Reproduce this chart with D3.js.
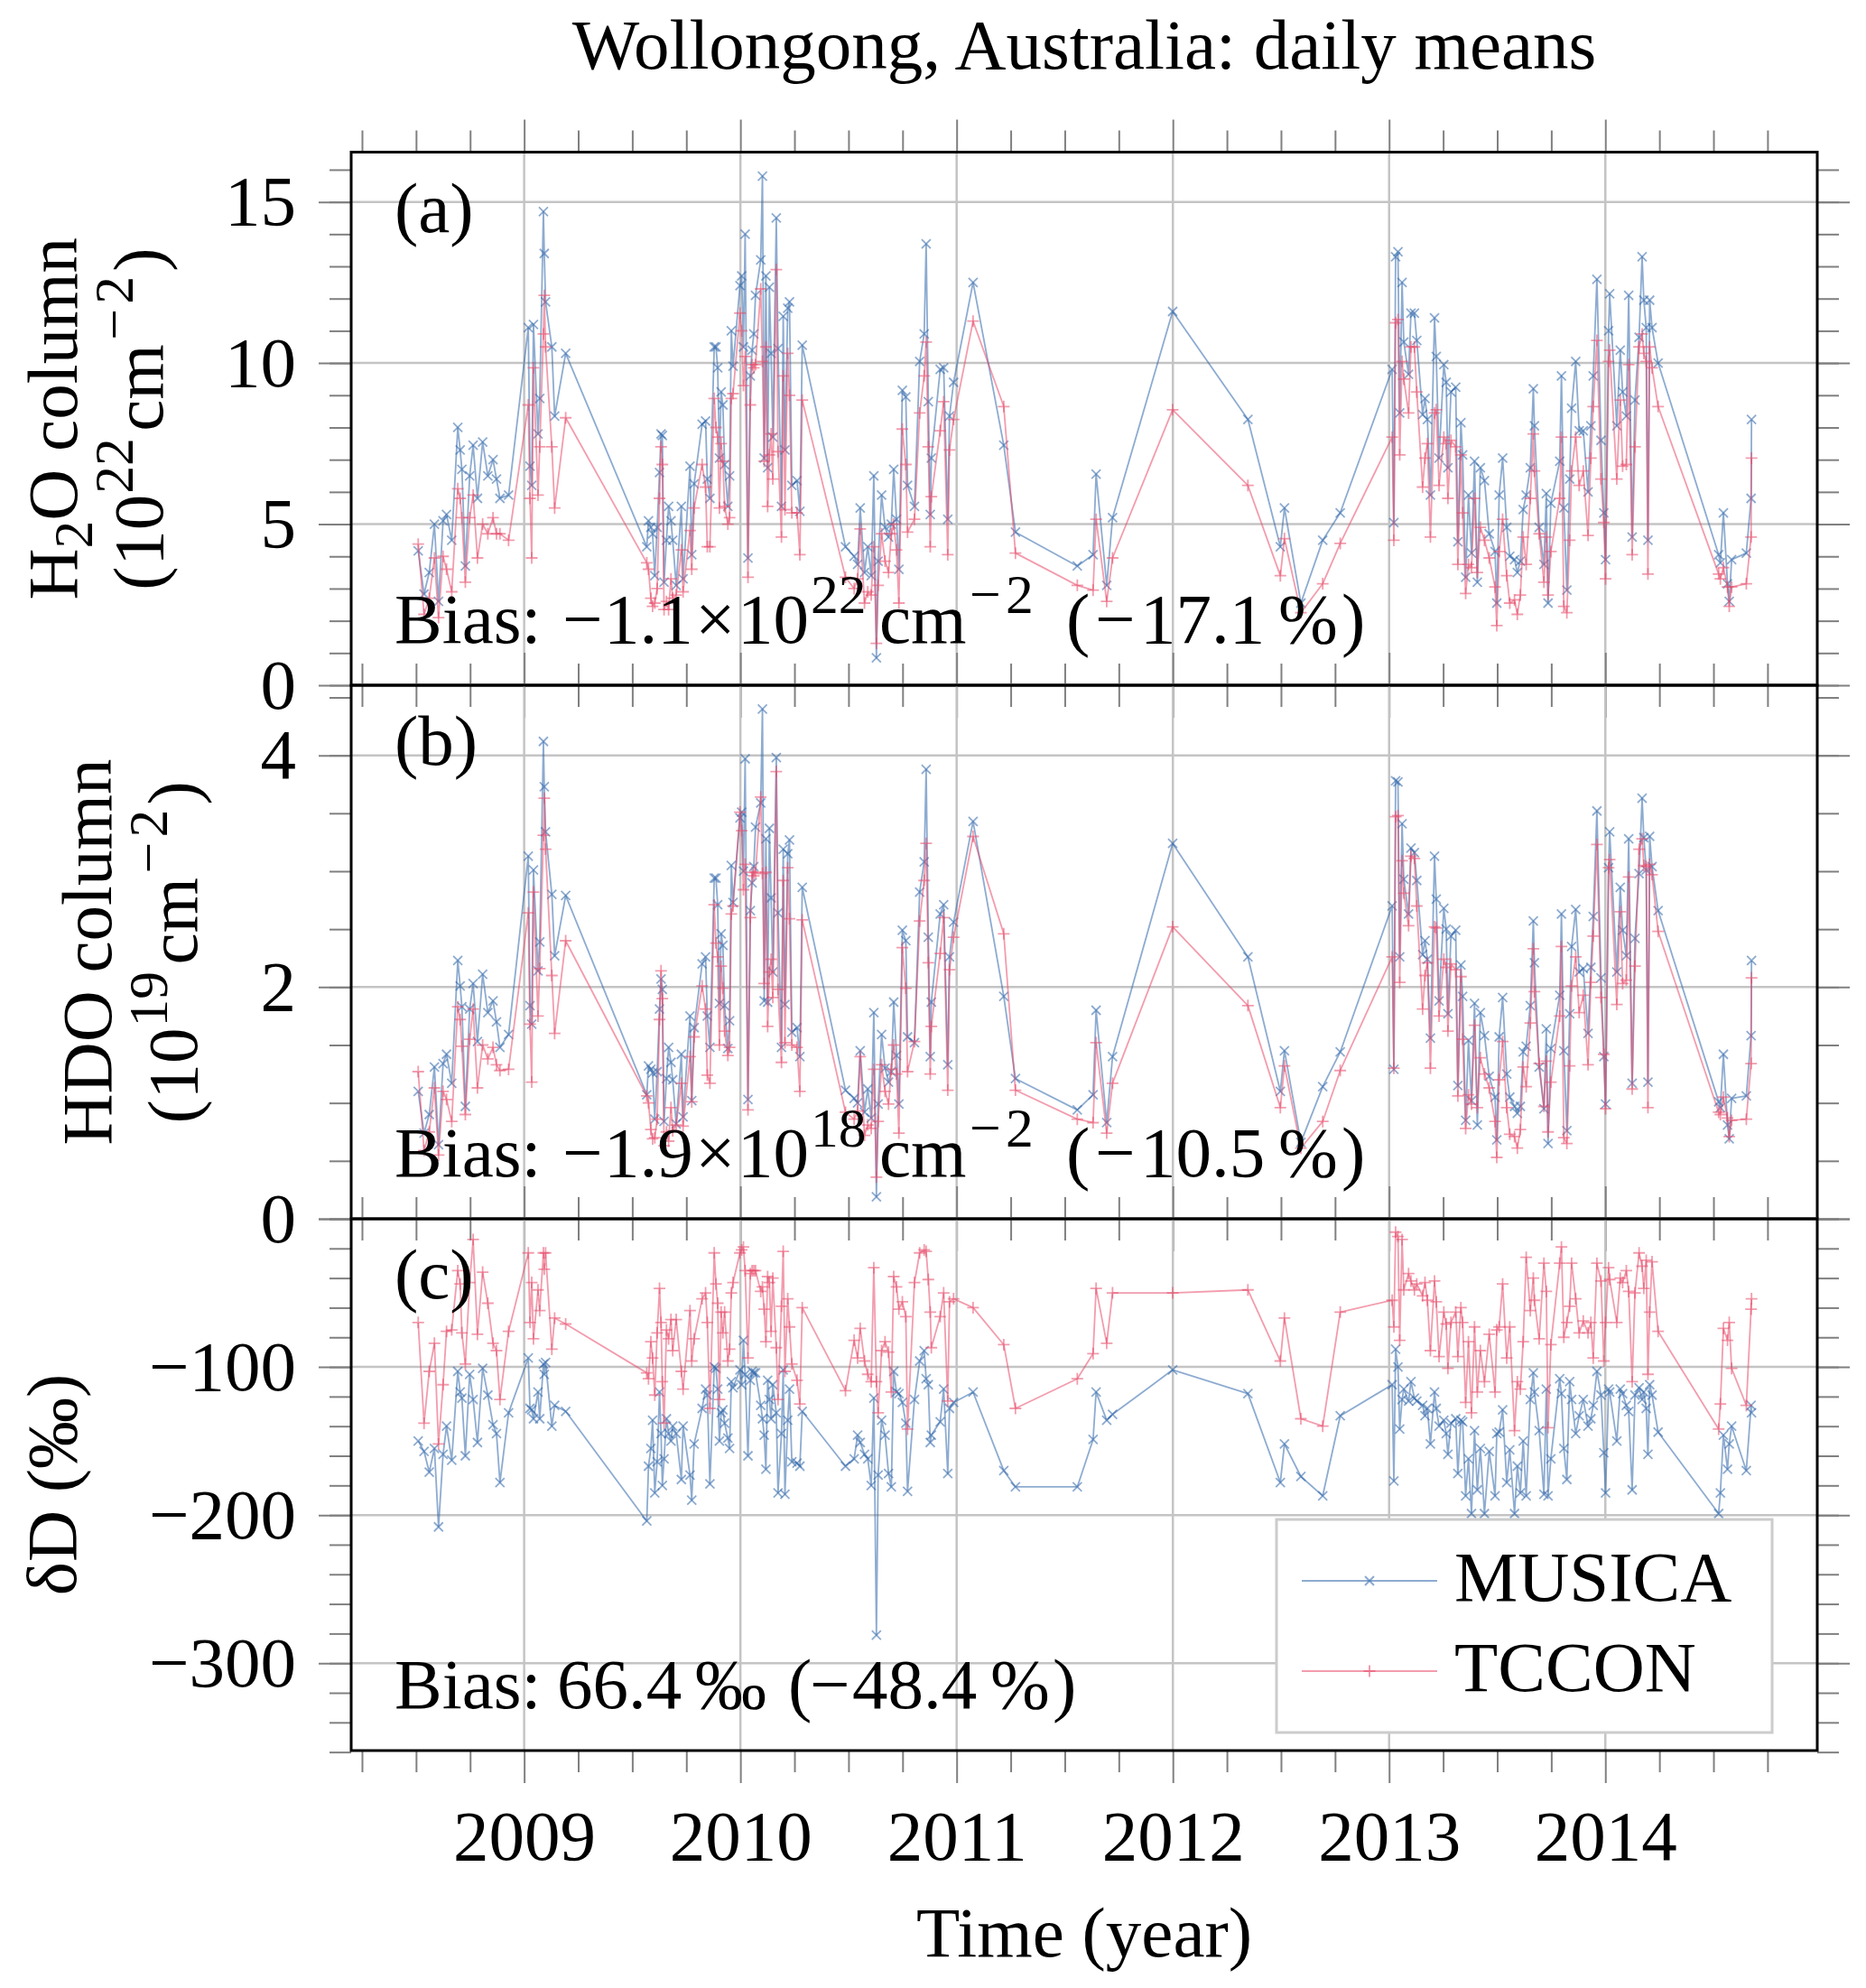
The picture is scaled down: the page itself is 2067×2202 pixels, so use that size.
<!DOCTYPE html>
<html>
<head>
<meta charset="utf-8">
<script src="https://cdn.jsdelivr.net/npm/d3@7"></script>
<style>
  body { margin: 0; background: #fff; }
  text { font-family: "Liberation Serif", "DejaVu Serif", serif; }
</style>
</head>
<body>
<svg id="chart"></svg>
<script>
// decimal year of each daily mean
const dates = [
  2008.510,2008.537,2008.561,2008.585,2008.604,2008.625,2008.641,2008.665,2008.693,2008.704,2008.712,2008.728,2008.748,2008.764,2008.784,2008.808,2008.832,2008.856,2008.872,2008.888,2008.928,
  2009.019,2009.027,2009.035,2009.043,2009.064,2009.072,2009.089,2009.093,2009.099,2009.128,2009.141,2009.192,
  2009.567,2009.575,2009.586,2009.594,2009.604,2009.615,2009.626,2009.633,2009.639,2009.647,2009.658,2009.668,2009.679,2009.687,2009.703,2009.727,2009.735,2009.767,2009.775,2009.786,2009.823,2009.839,2009.847,2009.859,2009.879,2009.887,2009.895,2009.903,2009.911,2009.919,2009.927,2009.942,2009.950,2009.958,2009.966,2009.998,2010.006,2010.014,2010.022,2010.035,2010.046,2010.054,2010.062,2010.070,2010.094,2010.102,2010.110,2010.118,2010.126,2010.134,2010.142,2010.150,2010.166,2010.174,2010.190,2010.198,2010.206,2010.219,2010.227,2010.238,2010.262,2010.275,2010.286,
  2010.486,2010.526,2010.542,2010.554,2010.574,2010.589,2010.605,2010.617,2010.629,2010.637,2010.653,2010.669,2010.685,2010.698,2010.709,2010.722,2010.733,2010.749,2010.765,2010.773,2010.805,2010.829,2010.850,2010.859,2010.869,2010.878,2010.883,2010.924,2010.940,2010.959,2010.967,2010.986,
  2011.076,2011.218,2011.272,2011.558,2011.631,2011.645,2011.694,2011.721,2011.999,2012.347,2012.497,2012.516,2012.592,2012.693,2012.774,
  2013.014,2013.022,2013.030,2013.041,2013.049,2013.060,2013.068,2013.090,2013.101,2013.117,2013.128,2013.155,2013.166,2013.177,2013.191,2013.210,2013.218,2013.231,2013.253,2013.264,2013.272,2013.286,2013.308,2013.318,2013.332,2013.340,2013.354,2013.367,2013.381,2013.395,2013.408,2013.422,2013.441,2013.463,2013.490,2013.498,2013.509,2013.525,2013.544,2013.558,2013.580,2013.593,2013.607,2013.620,2013.634,2013.653,2013.667,2013.672,2013.694,2013.716,2013.727,2013.735,2013.748,2013.789,2013.797,2013.808,2013.822,2013.835,2013.844,2013.863,2013.879,2013.898,2013.920,2013.933,2013.944,2013.961,2013.980,2013.993,2014.001,2014.015,2014.020,2014.053,2014.069,2014.080,2014.097,2014.108,2014.124,2014.137,2014.156,2014.170,2014.178,2014.189,2014.197,2014.205,2014.216,2014.244,
  2014.524,2014.532,2014.546,2014.565,2014.573,2014.584,2014.652,2014.674,2014.676
];

// (a) H2O column, 10^22 cm^-2
const musicaH2O = [
  4.17,2.83,3.50,5.00,2.60,5.10,5.30,4.50,8.00,7.30,6.70,3.70,6.50,7.45,5.80,7.55,6.50,7.00,6.40,5.80,5.90,
  11.1,6.8,6.2,11.2,7.8,8.9,14.7,13.4,11.9,10.5,8.35,10.3,
  4.3,5.1,4.9,4.7,3.4,4.9,6.6,7.8,7.75,3.2,4.5,5.55,5.1,4.5,3.1,5.55,3.3,6.8,4.05,6.25,8.1,8.2,6.4,5.8,10.5,10.5,9.85,7.05,9.1,8.7,6.85,5.55,6.5,11.0,9.9,12.4,12.7,10.5,14.0,3.95,9.6,10.4,10.9,12.1,13.2,15.8,7.05,12.7,6.75,12.35,10.3,7.7,14.5,10.45,5.55,11.45,7.3,11.7,11.9,6.2,6.35,5.4,10.55,
  4.3,4.0,3.75,5.5,3.5,4.3,3.4,6.5,0.85,3.85,5.9,4.9,4.6,5.0,6.7,5.15,3.6,9.15,8.95,6.2,5.55,10.05,10.9,13.7,8.8,5.3,7.05,9.8,9.85,5.15,8.35,9.4,
  12.5,7.45,4.75,3.7,4.05,6.55,3.1,5.2,11.6,8.25,4.3,5.5,2.55,4.5,5.35,
  9.8,5.05,13.3,13.45,8.45,12.5,10.65,9.65,11.55,11.55,10.7,8.4,8.9,8.25,5.9,11.4,10.2,7.05,9.95,9.4,6.75,9.1,9.25,4.45,8.15,7.15,3.35,5.9,4.1,6.95,3.2,6.75,6.35,4.7,4.15,2.55,5.9,7.05,4.9,4.0,3.9,3.5,3.85,5.45,5.9,6.75,9.2,8.05,4.9,3.75,5.95,2.55,5.65,6.95,9.6,5.5,2.95,6.4,8.6,10.05,7.9,7.9,6.0,8.05,9.6,12.6,7.6,5.35,3.9,11.0,12.15,8.05,10.4,9.1,8.35,12.1,4.6,8.85,10.8,13.3,11.95,11.1,4.5,11.95,11.1,10.0,
  4.05,3.8,5.35,3.15,2.6,3.9,4.1,5.8,8.25
];
const tcconH2O = [
  4.38,2.20,2.70,3.95,2.10,4.00,3.60,2.90,6.10,5.80,5.20,3.20,5.20,5.90,3.95,5.00,4.70,5.20,4.70,4.70,4.50,
  8.7,5.8,3.95,9.85,5.9,7.4,10.9,12.1,10.5,7.4,5.5,8.3,
  3.8,3.6,2.7,2.45,2.55,3.0,5.8,7.4,6.85,2.35,2.6,2.35,3.3,2.7,2.8,4.2,2.9,4.8,3.6,5.5,6.85,6.15,4.3,4.3,8.9,8.0,7.7,5.5,7.5,6.95,5.55,5.0,5.2,8.9,9.05,11.55,11.0,9.3,10.2,3.35,8.7,9.95,9.85,9.95,12.3,10.05,6.95,10.5,5.55,7.15,7.8,6.4,12.9,7.25,4.6,9.6,5.45,10.3,9.0,5.35,5.35,4.05,8.85,
  3.35,3.0,3.3,4.85,2.55,2.9,2.8,4.3,1.3,3.1,4.7,3.85,3.5,4.7,5.0,4.2,2.55,7.95,6.85,4.75,5.15,8.45,9.6,10.65,7.4,4.3,5.85,7.9,8.8,4.05,7.3,8.25,
  11.3,8.65,4.1,3.1,2.95,5.15,2.6,3.95,8.55,6.2,3.4,4.55,2.25,3.15,4.4,
  7.7,4.5,11.25,11.35,7.15,10.05,9.5,8.45,10.5,10.5,9.1,6.15,7.05,7.5,4.6,8.45,8.55,6.2,7.7,7.5,5.8,7.6,7.4,3.75,7.15,5.35,2.85,3.75,3.65,5.8,3.5,4.9,4.5,3.95,3.05,1.85,4.15,5.15,3.4,2.55,2.65,2.2,2.8,4.6,3.75,5.8,7.8,6.65,4.7,3.2,4.6,2.8,4.15,5.8,7.7,2.45,2.25,4.5,6.65,7.7,6.2,6.65,4.65,7.05,8.65,10.7,6.4,5.05,3.3,10.05,10.4,6.4,8.85,6.8,6.85,9.95,4.05,7.4,10.5,10.9,10.3,10.05,3.45,10.5,9.85,8.65,
  3.45,3.3,3.65,3.05,2.45,3.05,3.15,4.6,7.05
];

// (b) HDO column, 10^19 cm^-2
const musicaHDO = [
  1.10,0.74,0.90,1.31,0.64,1.34,1.42,1.17,2.23,2.01,1.83,0.97,1.81,2.03,1.53,2.11,1.78,1.88,1.70,1.48,1.59,
  3.13,1.84,1.68,3.01,2.14,2.39,4.12,3.73,3.34,2.80,2.27,2.79,
  1.07,1.32,1.29,1.26,0.86,1.27,1.81,2.07,1.98,0.84,1.21,1.48,1.35,1.20,0.82,1.42,0.88,1.75,1.02,1.65,2.20,2.26,1.75,1.48,2.94,2.94,2.71,1.86,2.46,2.36,1.84,1.47,1.71,3.05,2.73,3.46,3.51,3.00,3.97,1.03,2.66,2.90,3.04,3.38,3.59,4.40,1.88,3.28,1.87,3.37,2.77,2.13,3.98,2.64,1.48,3.19,1.85,3.15,3.27,1.61,1.65,1.40,2.86,
  1.11,1.04,1.00,1.45,0.92,1.12,0.87,1.78,0.19,0.99,1.59,1.30,1.18,1.27,1.87,1.41,0.99,2.49,2.40,1.57,1.52,2.82,3.08,3.88,2.43,1.40,1.87,2.63,2.71,1.33,2.26,2.56,
  3.43,1.92,1.21,0.94,1.07,1.80,0.83,1.40,3.24,2.26,1.10,1.45,0.66,1.14,1.44,
  2.70,1.29,3.78,3.77,2.26,3.41,2.93,2.63,3.20,3.16,2.92,2.28,2.40,2.24,1.56,3.13,2.76,1.88,2.68,2.50,1.77,2.44,2.49,1.15,2.19,1.92,0.85,1.54,1.02,1.86,0.81,1.78,1.58,1.23,1.05,0.68,1.57,1.91,1.25,1.05,0.97,0.91,0.97,1.44,1.49,1.84,2.57,2.21,1.31,0.95,1.64,0.65,1.47,1.93,2.63,1.45,0.76,1.77,2.35,2.67,2.13,2.16,1.60,2.17,2.61,3.52,2.08,1.40,0.99,3.03,3.34,2.13,2.86,2.49,2.27,3.28,1.17,2.42,2.98,3.63,3.29,3.01,1.18,3.30,3.04,2.66,
  1.01,0.96,1.42,0.81,0.69,1.04,1.06,1.58,2.23
];
const tcconHDO = [
  1.27,0.59,0.75,1.13,0.55,1.10,1.03,0.84,1.83,1.72,1.49,0.90,1.55,1.81,1.13,1.50,1.38,1.48,1.33,1.28,1.29,
  2.64,1.68,1.18,2.82,1.75,2.16,3.31,3.63,3.19,2.10,1.60,2.40,
  1.06,1.00,0.77,0.69,0.70,0.86,1.72,2.14,1.90,0.63,0.75,0.67,0.96,0.76,0.81,1.17,0.80,1.40,1.01,1.57,2.01,1.81,1.24,1.17,2.71,2.38,2.26,1.50,2.18,1.99,1.62,1.41,1.48,2.63,2.70,3.51,3.35,2.84,3.06,0.94,2.60,2.99,2.96,2.99,3.64,2.98,2.03,2.99,1.66,2.13,2.24,1.91,3.86,1.98,1.35,2.92,1.52,3.03,2.59,1.50,1.48,1.10,2.58,
  0.92,0.86,0.93,1.40,0.72,0.81,0.78,1.29,0.36,0.84,1.33,1.10,0.99,1.29,1.50,1.25,0.74,2.34,1.99,1.27,1.53,2.57,2.92,3.24,2.21,1.25,1.66,2.29,2.60,1.11,2.15,2.43,
  3.30,2.46,1.11,0.86,0.83,1.52,0.74,1.17,2.52,1.84,0.96,1.32,0.61,0.84,1.28,
  2.26,1.30,3.47,3.48,2.04,3.09,2.81,2.53,3.13,3.11,2.70,1.81,2.10,2.21,1.30,2.52,2.51,1.75,2.24,2.17,1.62,2.20,2.15,1.06,2.09,1.55,0.78,1.07,0.99,1.67,0.96,1.39,1.25,1.13,0.84,0.53,1.20,1.53,0.96,0.73,0.71,0.61,0.77,1.31,1.14,1.69,2.33,1.96,1.34,0.97,1.36,0.75,1.18,1.75,2.35,0.70,0.65,1.32,2.01,2.26,1.78,1.93,1.33,2.04,2.44,3.23,1.91,1.42,0.95,3.03,3.10,1.85,2.65,2.03,2.06,2.95,1.12,2.18,3.19,3.28,3.05,3.04,0.96,3.06,2.97,2.48,
  0.92,0.90,1.05,0.87,0.71,0.85,0.86,1.34,2.08
];

// (c) deltaD, permil
const musicaDD = [
  -150,-157,-171,-155,-208,-159,-140,-163,-103,-117,-121,-160,-105,-122,-151,-101,-119,-139,-145,-178,-131,
  -94,-128,-129,-135,-117,-135,-98,-105,-97,-140,-126,-130,
  -204,-167,-155,-136,-185,-164,-117,-145,-180,-162,-135,-145,-150,-140,-145,-176,-140,-173,-190,-152,-128,-115,-119,-179,-100,-101,-115,-150,-131,-129,-138,-148,-155,-110,-114,-102,-112,-82,-105,-160,-109,-103,-104,-104,-126,-135,-146,-169,-109,-122,-135,-112,-131,-185,-145,-102,-186,-136,-115,-164,-165,-167,-130,
  -167,-162,-146,-151,-159,-162,-180,-121,-281,-173,-136,-146,-172,-181,-103,-117,-118,-124,-138,-184,-122,-96,-89,-108,-112,-151,-146,-137,-115,-172,-128,-124,
  -117,-170,-181,-181,-149,-117,-136,-132,-102,-118,-178,-152,-174,-187,-133,
  -112,-177,-88,-100,-142,-122,-115,-123,-110,-121,-123,-126,-133,-128,-152,-117,-128,-140,-136,-145,-159,-138,-135,-172,-136,-137,-187,-162,-199,-143,-183,-155,-199,-157,-187,-145,-144,-129,-178,-156,-199,-167,-185,-150,-187,-122,-104,-117,-143,-186,-115,-187,-162,-108,-118,-155,-176,-110,-122,-145,-133,-122,-140,-135,-126,-103,-119,-158,-185,-115,-117,-150,-115,-118,-126,-130,-183,-119,-114,-122,-117,-128,-159,-112,-119,-144,
  -199,-185,-146,-169,-152,-140,-170,-126,-131
];
const tcconDD = [
  -70,-138,-103,-84,-152,-112,-76,-75,-35,-44,-77,-98,-43,-14,-78,-36,-57,-84,-89,-122,-76,
  -23,-70,-43,-81,-48,-62,-23,-34,-23,-88,-67,-71,
  -104,-108,-83,-94,-119,-77,-47,-70,-110,-138,-75,-81,-68,-89,-68,-103,-115,-62,-96,-81,-54,-50,-70,-128,-23,-44,-57,-122,-63,-77,-63,-96,-88,-50,-43,-23,-21,-19,-35,-94,-37,-35,-35,-35,-49,-46,-61,-83,-39,-43,-76,-40,-87,-122,-59,-22,-103,-54,-73,-98,-109,-125,-60,
  -116,-82,-94,-74,-96,-105,-110,-33,-110,-131,-89,-83,-90,-117,-39,-46,-61,-56,-66,-142,-43,-23,-21,-22,-41,-63,-87,-66,-50,-123,-56,-54,
  -60,-85,-128,-108,-91,-47,-84,-50,-50,-48,-96,-67,-135,-140,-63,
  -55,-73,-9,-12,-82,-14,-48,-37,-42,-48,-44,-52,-43,-55,-89,-42,-56,-93,-63,-71,-101,-70,-63,-93,-60,-70,-124,-83,-131,-73,-117,-89,-110,-78,-117,-75,-73,-44,-94,-73,-143,-110,-115,-83,-26,-62,-40,-55,-81,-30,-49,-141,-85,-30,-19,-80,-70,-59,-30,-54,-77,-69,-77,-70,-94,-30,-42,-96,-70,-33,-41,-70,-40,-43,-35,-49,-110,-50,-23,-32,-47,-28,-105,-63,-29,-76,
  -142,-125,-74,-82,-70,-101,-126,-61,-54
];

// tick values and labels
const yearTicks = [2009, 2010, 2011, 2012, 2013, 2014];
const quarterTicks = [2008.25,2008.5,2008.75,2009.25,2009.5,2009.75,2010.25,2010.5,2010.75,2011.25,2011.5,2011.75,
                      2012.25,2012.5,2012.75,2013.25,2013.5,2013.75,2014.25,2014.5,2014.75];
const h2oTicks = [0, 5, 10, 15];
const hdoTicks = [0, 2, 4];
const ddTicks = [-300, -200, -100, 0];
const seriesNames = ["MUSICA", "TCCON"];

const W = 2067, H = 2202;
const L = 389, R = 2013;
const FS = 79;
const SUP = 0.78;
const MUSICA_COLOR = "#2f66aa", TCCON_COLOR = "#e84a6a";

const svg = d3.select("#chart").attr("width", W).attr("height", H);
svg.append("rect").attr("width", W).attr("height", H).attr("fill", "#fff");

const x = d3.scaleLinear().domain([2008.2, 2014.98]).range([L, R]);

// text with super/subscript pieces; optional third item = x offset of that piece
function rich(textSel, parts, fs, x0) {
    let shift = 0;
    parts.forEach(([t, kind, off]) => {
        const target = kind === "sup" ? -0.42 * fs : kind === "sub" ? 0.22 * fs : 0;
        const ts = textSel.append("tspan")
            .attr("dy", target - shift)
            .attr("font-size", kind ? fs * SUP : fs)
            .text(t);
        if (off !== undefined) ts.attr("x", x0 + off);
        shift = target;
    });
    return textSel;
}

const unitParts = exp => [["(", null, 0], ["10", null, 27], [exp, "sup", 107], ["cm", null, 176],
                          ["\u2212", "sup", 277], ["2", "sup", 317], [")", null, 353]];
const colBias = (a, b, c) => [["Bias: ", null, 0], ["\u2212", null, 186], [a, null, 232], ["\u00d7", null, 333],
                             ["10", null, 380], [b, "sup", 461], ["cm", null, 537], ["\u2212", "sup", 637],
                             ["2", "sup", 677], ["(", null, 744], ["\u2212", null, 776], [c, null, 826],
                             ["%", null, 979], [")", null, 1049]];

const panels = [
    { top: 168.5, bottom: 759, domain: [0, 16.545], major: h2oTicks, minor: d3.range(0, 16.5, 1),
      musica: musicaH2O, tccon: tcconH2O, tag: "(a)",
      bias: colBias("1.1", "22", "17.1"),
      ylab: [{ cx: 59, start: null, parts: [["H"], ["2", "sub"], ["O column"]] },
             { cx: 154, start: -190, parts: unitParts("22") }] },
    { top: 759, bottom: 1350, domain: [0, 4.605], major: hdoTicks, minor: d3.range(0, 4.6, 0.5),
      musica: musicaHDO, tccon: tcconHDO, tag: "(b)",
      bias: colBias("1.9", "18", "10.5"),
      ylab: [{ cx: 97, start: null, parts: [["HDO column"]] },
             { cx: 192, start: -190, parts: unitParts("19") }] },
    { top: 1350, bottom: 1939, domain: [-359, 0], major: ddTicks, minor: d3.range(-360, 1, 20),
      musica: musicaDD, tccon: tcconDD, tag: "(c)", hideZero: true,
      bias: [["Bias: ", null, 0], ["66.4", null, 180], ["\u2030", null, 333], ["(", null, 436],
             ["\u2212", null, 460], ["48.4", null, 507], ["%", null, 660], [")", null, 729]],
      ylab: [{ cx: 58, start: null, parts: [["\u03b4D (\u2030)"]] }] }
];

const markerX = "M-5,-5L5,5M-5,5L5,-5";
const markerPlus = "M-6.5,0H6.5M0,-6.5V6.5";

function styleAxis(g) {
    g.attr("color", "#808080").attr("font-size", FS).attr("font-family", null);
    g.select(".domain").remove();
    g.selectAll(".tick line").attr("stroke-width", 2);
    g.selectAll(".tick text").attr("fill", "#000");
}

panels.forEach((p, pi) => {
    const y = d3.scaleLinear().domain(p.domain).range([p.bottom, p.top]);
    const g = svg.append("g");

    // grid
    g.selectAll("line.vgrid").data(yearTicks).join("line").attr("class", "vgrid")
        .attr("x1", d => x(d)).attr("x2", d => x(d))
        .attr("y1", p.top).attr("y2", p.bottom)
        .attr("stroke", "#c4c4c4").attr("stroke-width", 2.5);
    g.selectAll("line.hgrid").data(p.major).join("line").attr("class", "hgrid")
        .attr("x1", L).attr("x2", R)
        .attr("y1", d => y(d)).attr("y2", d => y(d))
        .attr("stroke", "#c4c4c4").attr("stroke-width", 2.5);

    // series
    const line = d3.line().x(d => x(d[0])).y(d => y(d[1]));
    [[p.musica, MUSICA_COLOR, markerX], [p.tccon, TCCON_COLOR, markerPlus]].forEach(([vals, col, mk]) => {
        const pts = d3.zip(dates, vals);
        const s = g.append("g").attr("stroke", col).attr("fill", "none").attr("stroke-opacity", 0.55);
        s.append("path").datum(pts).attr("d", line).attr("stroke-width", 1.8).attr("stroke-linejoin", "round");
        s.selectAll("path.mk").data(pts).join("path").attr("class", "mk")
            .attr("transform", d => `translate(${x(d[0])},${y(d[1])})`)
            .attr("d", mk).attr("stroke-width", 1.8);
    });

    // ticks (outward on all four sides)
    const yFmt = d => (p.hideZero && d === 0) ? "" : d3.format("d")(d);
    g.append("g").attr("transform", `translate(${L},0)`)
        .call(d3.axisLeft(y).tickValues(p.minor).tickSize(24).tickFormat("")).call(styleAxis);
    g.append("g").attr("transform", `translate(${L},0)`)
        .call(d3.axisLeft(y).tickValues(p.major).tickSize(36).tickPadding(25).tickFormat(yFmt)).call(styleAxis);
    g.append("g").attr("transform", `translate(${R},0)`)
        .call(d3.axisRight(y).tickValues(p.minor).tickSize(24).tickFormat("")).call(styleAxis);
    g.append("g").attr("transform", `translate(${R},0)`)
        .call(d3.axisRight(y).tickValues(p.major).tickSize(36).tickFormat("")).call(styleAxis);
    g.append("g").attr("transform", `translate(0,${p.top})`)
        .call(d3.axisTop(x).tickValues(quarterTicks).tickSize(24).tickFormat("")).call(styleAxis);
    g.append("g").attr("transform", `translate(0,${p.top})`)
        .call(d3.axisTop(x).tickValues(yearTicks).tickSize(36).tickFormat("")).call(styleAxis);
    g.append("g").attr("transform", `translate(0,${p.bottom})`)
        .call(d3.axisBottom(x).tickValues(quarterTicks).tickSize(24).tickFormat("")).call(styleAxis);
    g.append("g").attr("transform", `translate(0,${p.bottom})`)
        .call(d3.axisBottom(x).tickValues(yearTicks).tickSize(36).tickPadding(29)
            .tickFormat(pi === panels.length - 1 ? d3.format("d") : "")).call(styleAxis);

    // frame
    g.append("rect").attr("x", L).attr("y", p.top).attr("width", R - L).attr("height", p.bottom - p.top)
        .attr("fill", "none").attr("stroke", "#000").attr("stroke-width", 3);

    // panel tag and bias
    g.append("text").attr("x", 437).attr("y", p.top + 88).attr("font-size", FS).text(p.tag);
    rich(g.append("text").attr("x", 437).attr("y", p.bottom - 47).attr("font-size", FS), p.bias, FS, 437);

    // y label (rotated)
    p.ylab.forEach(l => {
        const t = g.append("text")
            .attr("transform", `translate(${l.cx},${(p.top + p.bottom) / 2}) rotate(-90)`)
            .attr("y", 0.33 * FS).attr("font-size", FS);
        if (l.start === null) {
            t.attr("text-anchor", "middle");
            rich(t, l.parts, FS);
        } else {
            t.attr("x", l.start);
            rich(t, l.parts, FS, l.start);
        }
    });
});

// title and x label
svg.append("text").attr("x", (L + R) / 2).attr("y", 76).attr("text-anchor", "middle")
    .attr("font-size", FS).text("Wollongong, Australia: daily means");
svg.append("text").attr("x", (L + R) / 2).attr("y", 2167).attr("text-anchor", "middle")
    .attr("font-size", FS).text("Time (year)");

// legend
const lg = svg.append("g");
lg.append("rect").attr("x", 1414).attr("y", 1683).attr("width", 549).attr("height", 236)
    .attr("fill", "#fff").attr("stroke", "#cccccc").attr("stroke-width", 3);
seriesNames.forEach((name, i) => {
    const cy = 1751 + i * 100;
    const col = i === 0 ? MUSICA_COLOR : TCCON_COLOR;
    const e = lg.append("g").attr("stroke", col).attr("stroke-opacity", 0.55).attr("fill", "none");
    e.append("line").attr("x1", 1442).attr("x2", 1592).attr("y1", cy).attr("y2", cy).attr("stroke-width", 2.2);
    e.append("path").attr("transform", `translate(1517,${cy})`).attr("d", i === 0 ? markerX : markerPlus).attr("stroke-width", 2);
    lg.append("text").attr("x", 1611).attr("y", cy + 22).attr("font-size", FS).text(name);
});
</script>
</body>
</html>
